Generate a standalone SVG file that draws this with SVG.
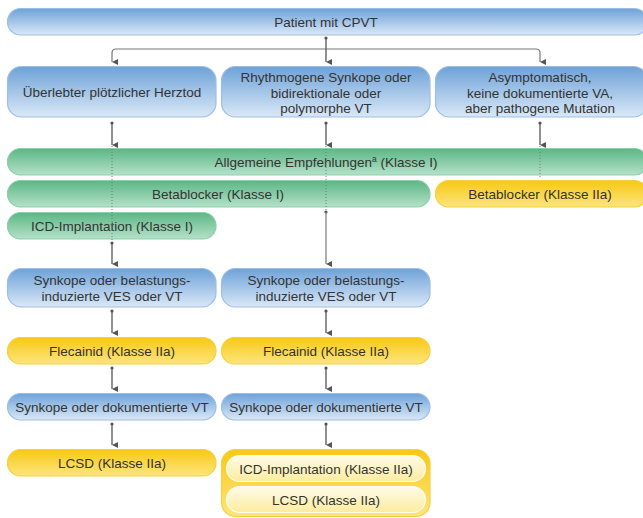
<svg xmlns="http://www.w3.org/2000/svg" width="643" height="518" viewBox="0 0 643 518">
<defs>
<linearGradient id="gb" x1="0" y1="0" x2="0" y2="1"><stop offset="0" stop-color="#6ea2d8"/><stop offset="1" stop-color="#dae8f7"/></linearGradient>
<linearGradient id="gg" x1="0" y1="0" x2="0" y2="1"><stop offset="0" stop-color="#5bb784"/><stop offset="1" stop-color="#b4e1c8"/></linearGradient>
<linearGradient id="gy" x1="0" y1="0" x2="0" y2="1"><stop offset="0" stop-color="#f8c814"/><stop offset="1" stop-color="#fde57e"/></linearGradient>
<linearGradient id="gc" x1="0" y1="0" x2="0" y2="1"><stop offset="0" stop-color="#fffbe8"/><stop offset="1" stop-color="#fcec9e"/></linearGradient>
<marker id="ah" markerUnits="userSpaceOnUse" markerWidth="8" markerHeight="8" viewBox="0 0 8 8" refX="4" refY="7" orient="auto">
<path d="M1,1 L7,1 L4,7 Z" fill="#555"/>
</marker>
</defs>
<style>
.b{fill:url(#gb);stroke:#9dbfe6;stroke-width:1.2}
.g{fill:url(#gg);stroke:#8ccfa9;stroke-width:1.2}
.y{fill:url(#gy);stroke:#f5d040;stroke-width:1.2}
.c{fill:url(#gc);stroke:#fffdf2;stroke-width:1.2}
text{font-family:"Liberation Sans",Arial,sans-serif;font-size:13.5px;fill:#333;text-anchor:middle}
.ln{stroke:#555;stroke-width:1.3;fill:none}
.lh{stroke:#777;stroke-width:1.2;fill:none}
.dt{stroke:#777;stroke-width:1;stroke-dasharray:1,2;fill:none}
.dot{fill:#555}
</style>
<g id="patient"><rect class="b" x="7.5" y="8.5" width="640" height="26.5" rx="13"/><text x="326" y="26.5">Patient mit CPVT</text></g>
<g id="ueberlebter"><rect class="b" x="7.5" y="66.5" width="208.5" height="50.5" rx="14"/><text x="112" y="96.5">Überlebter plötzlicher Herztod</text></g>
<g id="synkope1"><rect class="b" x="221.5" y="66.5" width="208.5" height="50.5" rx="14"/><text x="326" y="81.5">Rhythmogene Synkope oder</text><text x="326" y="97.5">bidirektionale oder</text><text x="326" y="113">polymorphe VT</text></g>
<g id="asympt"><rect class="b" x="435.5" y="66.5" width="212" height="50.5" rx="14"/><text x="540" y="81.5">Asymptomatisch,</text><text x="540" y="97.5">keine dokumentierte VA,</text><text x="540" y="113">aber pathogene Mutation</text></g>
<g id="allgemein"><rect class="g" x="7.5" y="148.5" width="640" height="26.5" rx="13"/><text x="326" y="166.5">Allgemeine Empfehlungen<tspan font-size="8.5" dy="-4.5">a</tspan><tspan dy="4.5"> (Klasse I)</tspan></text></g>
<g id="beta1"><rect class="g" x="7.5" y="180.5" width="422.5" height="26.5" rx="13"/><text x="218" y="198.5">Betablocker (Klasse I)</text></g>
<g id="beta2"><rect class="y" x="435.5" y="180.5" width="212" height="26.5" rx="13"/><text x="540" y="198.5">Betablocker (Klasse IIa)</text></g>
<g id="icd1"><rect class="g" x="7.5" y="212.5" width="208.5" height="26.5" rx="13"/><text x="112" y="230.5">ICD-Implantation (Klasse I)</text></g>
<g id="syn2l"><rect class="b" x="7.5" y="268.5" width="208.5" height="38.5" rx="14"/><text x="112" y="284.5">Synkope oder belastungs-</text><text x="112" y="300.5">induzierte VES oder VT</text></g>
<g id="syn2m"><rect class="b" x="221.5" y="268.5" width="208.5" height="38.5" rx="14"/><text x="326" y="284.5">Synkope oder belastungs-</text><text x="326" y="300.5">induzierte VES oder VT</text></g>
<g id="flec1"><rect class="y" x="7.5" y="337.5" width="208.5" height="26.5" rx="13"/><text x="112" y="355.5">Flecainid (Klasse IIa)</text></g>
<g id="flec2"><rect class="y" x="221.5" y="337.5" width="208.5" height="26.5" rx="13"/><text x="326" y="355.5">Flecainid (Klasse IIa)</text></g>
<g id="syn3l"><rect class="b" x="7.5" y="393.5" width="208.5" height="26.5" rx="13"/><text x="112" y="411.5">Synkope oder dokumentierte VT</text></g>
<g id="syn3m"><rect class="b" x="221.5" y="393.5" width="208.5" height="26.5" rx="13"/><text x="326" y="411.5">Synkope oder dokumentierte VT</text></g>
<g id="lcsd1"><rect class="y" x="7.5" y="449.5" width="208.5" height="26.5" rx="13"/><text x="112" y="467.5">LCSD (Klasse IIa)</text></g>
<g id="group"><rect class="y" x="221.5" y="449.5" width="208.5" height="67" rx="14"/>
<g id="icd2"><rect class="c" x="226.5" y="455.5" width="199" height="26" rx="13"/><text x="326" y="473.5">ICD-Implantation (Klasse IIa)</text></g>
<g id="lcsd2"><rect class="c" x="226.5" y="486.5" width="199" height="26" rx="13"/><text x="326" y="504.5">LCSD (Klasse IIa)</text></g>
</g>
<g id="connectors">
<path class="dt" d="M112,146 V241"/>
<path class="dt" d="M326,146 V211"/>
<path class="dt" d="M540,146 V178"/>
<path class="lh" d="M326,49 H116 Q112,49 112,53 V62" marker-end="url(#ah)"/>
<path class="lh" d="M326,49 H536 Q540,49 540,53 V62" marker-end="url(#ah)"/>
<circle class="dot" cx="326" cy="38" r="1.6"/>
<path class="ln" d="M326,38 V62" marker-end="url(#ah)"/>
<circle class="dot" cx="112" cy="123" r="1.6"/><path class="ln" d="M112,123 V145" marker-end="url(#ah)"/>
<circle class="dot" cx="326" cy="123" r="1.6"/><path class="ln" d="M326,123 V145" marker-end="url(#ah)"/>
<circle class="dot" cx="540" cy="123" r="1.6"/><path class="ln" d="M540,123 V145" marker-end="url(#ah)"/>
<circle class="dot" cx="326" cy="212" r="1.6"/><path class="lh" d="M326,212 V264" marker-end="url(#ah)"/>
<circle class="dot" cx="112" cy="243" r="1.6"/><path class="ln" d="M112,243 V264" marker-end="url(#ah)"/>
<circle class="dot" cx="112" cy="311" r="1.6"/><path class="ln" d="M112,311 V333" marker-end="url(#ah)"/>
<circle class="dot" cx="326" cy="311" r="1.6"/><path class="ln" d="M326,311 V333" marker-end="url(#ah)"/>
<circle class="dot" cx="112" cy="368" r="1.6"/><path class="ln" d="M112,368 V389" marker-end="url(#ah)"/>
<circle class="dot" cx="326" cy="368" r="1.6"/><path class="ln" d="M326,368 V389" marker-end="url(#ah)"/>
<circle class="dot" cx="112" cy="424" r="1.6"/><path class="ln" d="M112,424 V445" marker-end="url(#ah)"/>
<circle class="dot" cx="326" cy="424" r="1.6"/><path class="ln" d="M326,424 V445" marker-end="url(#ah)"/>
</g>
</svg>
